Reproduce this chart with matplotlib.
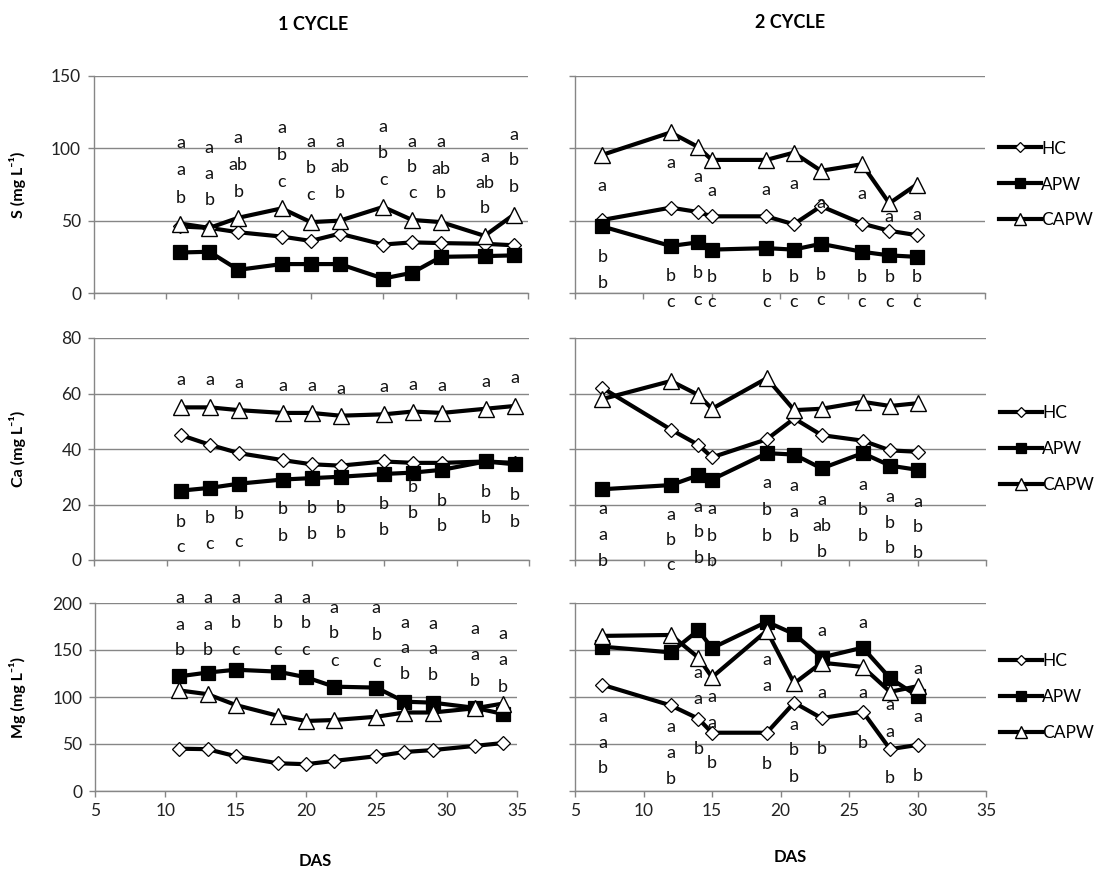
import matplotlib
matplotlib.use("Agg")
import matplotlib.pyplot as plt
import numpy as np

plt.rcParams['font.family'] = ['Lato', 'DejaVu Sans']

# ---------------- data ----------------
das1 = [11, 13, 15, 18, 20, 22, 25, 27, 29, 32, 34]
das2 = [7, 12, 14, 15, 19, 21, 23, 26, 28, 30]
series_names = ["HC", "APW", "CAPW"]

s_hc1 = [46, 45, 42, 39, 36, 41, 33.5, 35, 34.5, 34, 33]
s_apw1 = [28, 28.5, 16, 20, 20, 20, 10, 14, 25, 25.5, 26]
s_capw1 = [48, 45, 52, 58.5, 49, 50, 59.5, 50.5, 49, 39.5, 54]

s_hc2 = [50.5, 59, 56, 53, 53, 47.5, 60, 48, 43, 40]
s_apw2 = [46, 32.5, 35, 30, 31, 30, 34, 28.5, 26, 25]
s_capw2 = [95.5, 111, 101, 92, 92, 97, 84.5, 89, 62, 75]

ca_hc1 = [45, 41.5, 38.5, 36, 34.5, 34, 35.5, 35, 35, 35.5, 35]
ca_apw1 = [25, 26, 27.5, 29, 29.5, 30, 31, 31.5, 32.5, 35.5, 34.5]
ca_capw1 = [55, 55, 54, 53, 53, 52, 52.5, 53.5, 53, 54.5, 55.5]

ca_hc2 = [62, 47, 41.5, 37, 43.5, 51, 45, 43, 39.5, 39]
ca_apw2 = [25.5, 27, 30.5, 29, 38.5, 38, 33, 38.5, 34, 32.5]
ca_capw2 = [58, 64.5, 59.5, 54.5, 65.5, 54, 54.5, 57, 55.5, 56.5]

mg_hc1 = [45, 44.5, 37, 29.5, 28.5, 32, 37, 41.5, 43.5, 48, 51]
mg_apw1 = [122, 126, 129, 127, 121, 111, 110, 95, 94, 88.5, 82]
mg_capw1 = [107, 103, 91.5, 80, 74.5, 75.5, 79, 83.5, 83.5, 88, 93]

mg_hc2 = [113, 91, 77, 62, 62, 94, 77.5, 84.5, 44.5, 49]
mg_apw2 = [153.5, 147.5, 171, 152, 180, 167, 142, 152.5, 120, 101]
mg_capw2 = [165, 166, 142, 121, 170.5, 114.5, 136.5, 132, 105.5, 111.5]

# significance letters (per sampling date) and their anchor heights
s_let1 = [["a", "a", "b"], ["a", "a", "b"], ["a", "ab", "b"], ["a", "b", "c"], ["a", "b", "c"],
          ["a", "ab", "b"], ["a", "b", "c"], ["a", "b", "c"], ["a", "ab", "b"], ["a", "ab", "b"],
          ["a", "b", "b"]]
s_let1_y = [[104, 85, 66], [100, 82, 64], [107, 88.5, 70], [114, 95.5, 77], [104.5, 86.5, 68],
            [104.5, 87, 69], [115, 97, 78], [104.5, 87, 69], [104.5, 86, 69], [94, 76, 59],
            [109, 92, 73]]

s_let2 = [["a", "b", "b"]] + [["a", "b", "c"]] * 9
s_let2_y = [[74, 24.7, 7], [89.6, 11.8, -6], [80, 13.6, -4.8], [70.5, 11.3, -6], [71.2, 11.3, -6],
            [75.3, 11.3, -6], [62.4, 12.4, -4.8], [68.2, 11.3, -6], [52.7, 11.3, -6], [53.9, 11.3, -6]]

ca_let1 = [["a", "b", "c"]] * 3 + [["a", "b", "b"]] * 8
ca_let1_y = [[65, 13.8, 4.6], [65, 15, 5.8], [63.7, 16.6, 6.6], [62.7, 18.3, 8.6], [62.7, 18.6, 9.3],
             [61.5, 18.8, 9.6], [62.5, 20.1, 10.8], [63.1, 26.4, 17], [62.7, 21.4, 12.3],
             [64.3, 24.6, 15], [65.5, 23.4, 13.8]]

ca_let2 = [["a", "a", "b"], ["a", "b", "c"], ["a", "b", "b"], ["a", "b", "b"], ["a", "b", "b"],
           ["a", "a", "b"], ["a", "ab", "b"], ["a", "b", "b"], ["a", "b", "b"], ["a", "b", "b"]]
ca_let2_y = [[18.3, 9, -0.3], [16.2, 7.2, -1.8], [19.2, 10.2, 0.6], [18.3, 8.6, -0.3], [27.6, 18, 8.8],
             [26.7, 17.4, 8.4], [21.6, 12.3, 3], [27, 18, 8.6], [22.8, 13.2, 4.2], [21, 11.8, 2.4]]

mg_let1 = [["a", "a", "b"]] * 2 + [["a", "b", "c"]] * 5 + [["a", "a", "b"]] * 4
mg_let1_y = [[205, 176.6, 150], [205, 176.6, 150], [205, 178.4, 150], [205, 178.4, 150],
             [205, 178.4, 150], [194.4, 167.8, 138.6], [194.4, 166, 137.6], [179, 151.8, 124.5],
             [178, 150.7, 123.4], [172, 144.7, 117.4], [167, 139.4, 111]]

mg_let2 = [["a", "a", "b"]] * 5 + [["a", "b", "b"]] + [["a", "a", "b"]] * 4
mg_let2_y = [[79, 51.4, 24.1], [68.4, 40.1, 12.4], [125.9, 97.5, 44.3], [100.3, 72.7, 30.1],
             [139.4, 111.7, 28.7], [70.2, 43.6, 15.2], [170.6, 104.6, 44.3], [179, 103.9, 51.4],
             [91.5, 63.1, 13.5], [129.5, 79, 16]]

x_ticks = [5, 10, 15, 20, 25, 30, 35]
col_titles = ["1 CYCLE", "2 CYCLE"]
row_labels = ["S (mg L\u207b\u00b9)", "Ca (mg L\u207b\u00b9)", "Mg (mg L\u207b\u00b9)"]
x_label = "DAS"

# ---------------- layout ----------------
W, H = 1102, 877
fig = plt.figure(figsize=(W / 100, H / 100), dpi=100)
GRAY = '#868686'


def rect(x0, x1, y0, y1):
    return [x0 / W, 1 - y1 / H, (x1 - x0) / W, (y1 - y0) / H]


def style(ax, ymax, ystep, show_y, show_x):
    ax.set_xlim(5, 35)
    ax.set_ylim(0, ymax)
    ax.set_xticks(x_ticks)
    ax.set_yticks(np.arange(0, ymax + 1, ystep))
    for s in ['top', 'right']:
        ax.spines[s].set_visible(False)
    for s in ['left', 'bottom']:
        ax.spines[s].set_color(GRAY)
        ax.spines[s].set_linewidth(1.0)
    ax.grid(axis='y', color=GRAY, lw=1.0)
    ax.set_axisbelow(True)
    ax.tick_params(direction='out', length=4, width=1, color=GRAY, labelsize=12.5, pad=5,
                   labelcolor='#222222')
    if not show_y:
        ax.tick_params(axis='y', labelleft=False)
    if not show_x:
        ax.tick_params(axis='x', labelbottom=False)


def draw(ax, x, hc, apw, capw):
    ax.plot(x, hc, color='black', lw=3, marker='D', ms=6.8, mfc='white', mec='black', mew=0.9,
            label=series_names[0], zorder=3, clip_on=False)
    ax.plot(x, apw, color='black', lw=3, marker='s', ms=10, mfc='black', mec='black', mew=0.9,
            label=series_names[1], zorder=4, clip_on=False)
    ax.plot(x, capw, color='black', lw=3, marker='^', ms=11, mfc='white', mec='black', mew=1.0,
            label=series_names[2], zorder=5, clip_on=False)


def letters(ax, x, labs, ys):
    for xi, lab, yy in zip(x, labs, ys):
        for s, y in zip(lab, yy):
            ax.text(xi, y, s, ha='center', va='center', fontsize=13, color='#111111',
                    clip_on=False, zorder=6)


def legend(ax):
    ax.legend(loc='center left', bbox_to_anchor=(1.0, 0.5), frameon=False, fontsize=12.5,
              handlelength=2.4, handletextpad=0.05, labelspacing=1.15, borderpad=0,
              borderaxespad=0.8, markerscale=0.75)


panels = [
    (rect(93.5, 528, 76, 293), rect(575, 985, 76, 293), 150, 50,
     (s_hc1, s_apw1, s_capw1), (s_hc2, s_apw2, s_capw2),
     (s_let1, s_let1_y), (s_let2, s_let2_y)),
    (rect(94, 529, 338, 560), rect(575, 986, 338, 560), 80, 20,
     (ca_hc1, ca_apw1, ca_capw1), (ca_hc2, ca_apw2, ca_capw2),
     (ca_let1, ca_let1_y), (ca_let2, ca_let2_y)),
    (rect(95, 517, 603, 791), rect(575, 986, 603, 791), 200, 50,
     (mg_hc1, mg_apw1, mg_capw1), (mg_hc2, mg_apw2, mg_capw2),
     (mg_let1, mg_let1_y), (mg_let2, mg_let2_y)),
]

for i, (r1, r2, ymax, ystep, d1, d2, l1, l2) in enumerate(panels):
    last = (i == 2)
    ax1 = fig.add_axes(r1)
    style(ax1, ymax, ystep, True, last)
    draw(ax1, das1, *d1)
    letters(ax1, das1, *l1)

    ax2 = fig.add_axes(r2)
    style(ax2, ymax, ystep, False, last)
    draw(ax2, das2, *d2)
    letters(ax2, das2, *l2)
    legend(ax2)

    fig.text(18 / W, r1[1] + r1[3] / 2, row_labels[i], rotation=90, ha='center', va='center',
             fontsize=11.5, fontweight='bold')

fig.text(313 / W, 1 - 25 / H, col_titles[0], ha='center', va='center', fontsize=13, fontweight='bold')
fig.text(790 / W, 1 - 22 / H, col_titles[1], ha='center', va='center', fontsize=13, fontweight='bold')
fig.text(315 / W, 1 - 861 / H, x_label, ha='center', va='center', fontsize=12, fontweight='bold')
fig.text(790 / W, 1 - 857 / H, x_label, ha='center', va='center', fontsize=12, fontweight='bold')

fig.savefig("out.png", dpi=100)
